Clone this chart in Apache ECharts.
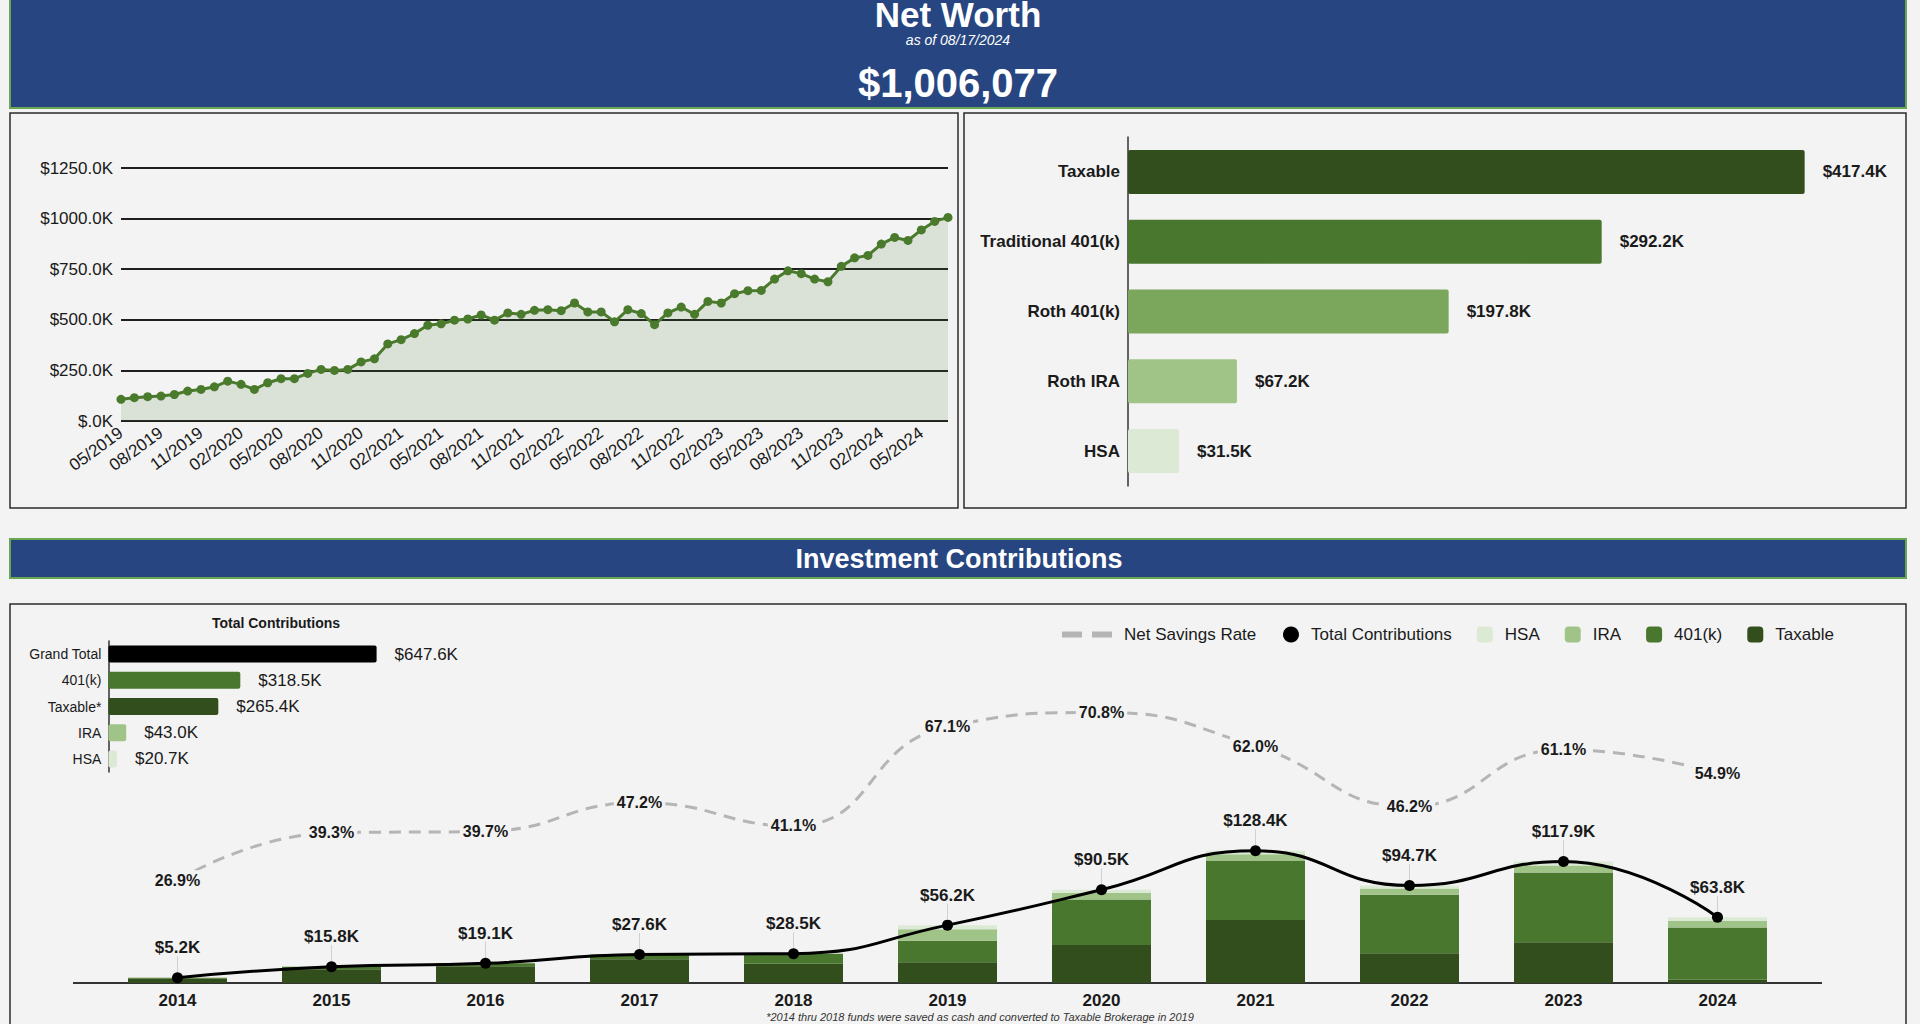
<!DOCTYPE html>
<html><head><meta charset="utf-8">
<script src="https://cdn.jsdelivr.net/npm/echarts@6/dist/echarts.min.js"></script>
<style>html,body{margin:0;padding:0;background:#f3f3f3;overflow:hidden}#c{width:1920px;height:1024px}</style>
</head><body><div id="c"></div>
<script>
// ---------- Net worth over time (K$) ----------
const months = ['05/2019','06/2019','07/2019','08/2019','09/2019','10/2019','11/2019','12/2019',
 '01/2020','02/2020','03/2020','04/2020','05/2020','06/2020','07/2020','08/2020','09/2020','10/2020','11/2020','12/2020',
 '01/2021','02/2021','03/2021','04/2021','05/2021','06/2021','07/2021','08/2021','09/2021','10/2021','11/2021','12/2021',
 '01/2022','02/2022','03/2022','04/2022','05/2022','06/2022','07/2022','08/2022','09/2022','10/2022','11/2022','12/2022',
 '01/2023','02/2023','03/2023','04/2023','05/2023','06/2023','07/2023','08/2023','09/2023','10/2023','11/2023','12/2023',
 '01/2024','02/2024','03/2024','04/2024','05/2024','06/2024','07/2024'];
const netWorth = [107,115,120,123,131,148,156,169,197,181,156,189,209,209,235,255,250,255,292,307,
 381,402,432,473,480,498,504,524,498,534,527,547,550,545,583,539,539,490,550,531,476,534,563,527,
 591,583,629,644,645,701,742,728,701,688,764,806,818,874,907,892,944,986,1006];
const nwTickLabels = {0:'$.0K',250:'$250.0K',500:'$500.0K',750:'$750.0K',1000:'$1000.0K',1250:'$1250.0K'};

// ---------- Accounts (K$) ----------
const acctNames = ['Taxable','Traditional 401(k)','Roth 401(k)','Roth IRA','HSA'];
const acctValues = [417.4,292.2,197.8,67.2,31.5];
const acctColors = ['#324e1d','#4a772e','#7aa75c','#a0c488','#dce9d5'];

// ---------- Total contributions (K$) ----------
const totNames = ['Grand Total','401(k)','Taxable*','IRA','HSA'];
const totValues = [647.6,318.5,265.4,43.0,20.7];
const totColors = ['#000000','#4a772e','#324e1d','#a0c488','#dce9d5'];

// ---------- Contributions by year (K$) ----------
const years = ['2014','2015','2016','2017','2018','2019','2020','2021','2022','2023','2024'];
const taxable = [4.2,13.4,16.3,23.0,18.8,20.1,37.0,61.3,28.8,39.6,3.2];
const k401 = [1.0,2.4,2.8,4.6,9.7,21.0,44.0,57.7,56.8,67.7,50.6];
const ira = [0,0,0,0,0,11.0,6.5,6.1,6.1,6.7,6.6];
const hsa = [0,0,0,0,0,4.1,3.0,3.3,3.0,3.9,3.4];
const totalContrib = [5.2,15.8,19.1,27.6,28.5,56.2,90.5,128.4,94.7,117.9,63.8];
const savingsRate = [26.9,39.3,39.7,47.2,41.1,67.1,70.8,62.0,46.2,61.1,54.9];

const FONT = '"Liberation Sans", Arial, sans-serif';
const TXT = '#1a1a1a';
const BG = '#f3f3f3';
const kfmt = v => '$' + Number(v).toFixed(1) + 'K';

const chart = echarts.init(document.getElementById('c'), null, {renderer: 'svg'});

const graphic = [
  {type:'rect', z:0, shape:{x:10,y:-4,width:1896,height:112}, style:{fill:'#274681', stroke:'#6aa84f', lineWidth:2}},
  {type:'text', z:10, style:{text:'Net Worth', x:958, y:14, align:'center', verticalAlign:'middle', fill:'#fff', font:'bold 35px '+FONT}},
  {type:'text', z:10, style:{text:'as of 08/17/2024', x:958, y:40, align:'center', verticalAlign:'middle', fill:'#fff', font:'italic 14px '+FONT}},
  {type:'text', z:10, style:{text:'$1,006,077', x:958, y:83, align:'center', verticalAlign:'middle', fill:'#fff', font:'bold 40px '+FONT}},
  {type:'rect', z:0, shape:{x:10,y:113,width:948,height:395}, style:{fill:BG, stroke:'#2b2b2b', lineWidth:1.5}},
  {type:'rect', z:0, shape:{x:964,y:113,width:942,height:395}, style:{fill:BG, stroke:'#2b2b2b', lineWidth:1.5}},
  {type:'rect', z:0, shape:{x:10,y:539,width:1896,height:39}, style:{fill:'#274681', stroke:'#6aa84f', lineWidth:2}},
  {type:'text', z:10, style:{text:'Investment Contributions', x:959, y:559, align:'center', verticalAlign:'middle', fill:'#fff', font:'bold 27px '+FONT}},
  {type:'rect', z:0, shape:{x:10,y:604,width:1896,height:440}, style:{fill:BG, stroke:'#2b2b2b', lineWidth:1.5}},
  {type:'line', z:1, shape:{x1:73,y1:983,x2:1822,y2:983}, style:{stroke:'#333', lineWidth:2}},
  {type:'text', z:10, style:{text:'Total Contributions', x:276, y:623, align:'center', verticalAlign:'middle', fill:TXT, font:'bold 14px '+FONT}},
  {type:'text', z:10, style:{text:'*2014 thru 2018 funds were saved as cash and converted to Taxable Brokerage in 2019', x:980, y:1017, align:'center', verticalAlign:'middle', fill:'#333', font:'italic 11px '+FONT}}
];

const option = {
  backgroundColor: BG,
  animation: false,
  textStyle: {fontFamily: FONT},
  graphic: graphic,
  grid: [
    {left:121, top:168, width:827, height:253},
    {left:1128, top:137, width:729.5, height:349},
    {left:108.4, top:641, width:289.9, height:131},
    {left:100.5, top:601, width:1694, height:382}
  ],
  legend: [
    {data:[{name:'Net Savings Rate', icon:'path://M0,0H20V6H0Z M30,0H50V6H30Z', itemStyle:{color:'#b5b5b5'}}],
     left:1057, top:621, itemWidth:50, itemHeight:6, selectedMode:false,
     textStyle:{fontSize:17, color:TXT, fontFamily:FONT, padding:[0,0,0,7]}},
    {data:[{name:'Total Contributions', icon:'circle'},{name:'HSA',icon:'roundRect'},{name:'IRA',icon:'roundRect'},{name:'401(k)',icon:'roundRect'},{name:'Taxable',icon:'roundRect'}],
     left:1278, top:621, itemWidth:16, itemHeight:16, itemGap:25, selectedMode:false,
     textStyle:{fontSize:17, color:TXT, fontFamily:FONT, padding:[0,0,0,7]}}
  ],
  xAxis: [
    {gridIndex:0, type:'category', data:months, boundaryGap:false,
     axisLine:{show:false}, axisTick:{show:false},
     axisLabel:{interval:2, rotate:36, fontSize:17, color:TXT, margin:10}},
    {gridIndex:1, type:'value', min:0, max:450, show:false},
    {gridIndex:2, type:'value', min:0, max:700, show:false},
    {gridIndex:3, type:'category', data:years,
     axisLine:{show:true, lineStyle:{color:'#333', width:2}}, axisTick:{show:false},
     axisLabel:{fontSize:17, fontWeight:'bold', color:TXT, margin:9}}
  ],
  yAxis: [
    {gridIndex:0, type:'value', min:0, max:1250, interval:250,
     axisLine:{show:false}, axisTick:{show:false},
     axisLabel:{fontSize:17, color:TXT, margin:8, formatter: v => nwTickLabels[v]},
     splitLine:{lineStyle:{color:'#1f1f1f', width:2}}},
    {gridIndex:1, type:'category', data:acctNames, inverse:true,
     axisLine:{show:true, lineStyle:{color:'#333', width:1.5}}, axisTick:{show:false},
     axisLabel:{fontSize:17, fontWeight:'bold', color:TXT, margin:8}},
    {gridIndex:2, type:'category', data:totNames, inverse:true,
     axisLine:{show:true, lineStyle:{color:'#333', width:1.5}}, axisTick:{show:false},
     axisLabel:{fontSize:14, color:TXT, margin:7}},
    {gridIndex:3, type:'value', min:0, max:371, show:false},
    {gridIndex:3, type:'value', min:0, max:100, show:false, position:'right'}
  ],
  series: [
    {name:'Net Worth', type:'line', xAxisIndex:0, yAxisIndex:0, data:netWorth,
     symbol:'circle', symbolSize:9, showAllSymbol:true, lineStyle:{color:'#4a7a2c', width:3}, itemStyle:{color:'#4a7a2c'},
     areaStyle:{color:'#4a7a2c', opacity:0.14}},
    {name:'Accounts', type:'bar', xAxisIndex:1, yAxisIndex:1, barWidth:44,
     data: acctValues.map((v,i)=>({value:v, itemStyle:{color:acctColors[i], borderRadius:2}})),
     label:{show:true, position:'right', distance:18, fontSize:17, fontWeight:'bold', color:TXT, formatter:p=>kfmt(p.value)}},
    {name:'Totals', type:'bar', xAxisIndex:2, yAxisIndex:2, barWidth:17,
     data: totValues.map((v,i)=>({value:v, itemStyle:{color:totColors[i], borderRadius:2}})),
     label:{show:true, position:'right', distance:18, fontSize:17, color:TXT, formatter:p=>kfmt(p.value)}},
    {name:'Taxable', type:'bar', stack:'c', xAxisIndex:3, yAxisIndex:3, barWidth:99, data:taxable, itemStyle:{color:'#324e1d'}},
    {name:'401(k)', type:'bar', stack:'c', xAxisIndex:3, yAxisIndex:3, barWidth:99, data:k401, itemStyle:{color:'#4a772e'}},
    {name:'IRA', type:'bar', stack:'c', xAxisIndex:3, yAxisIndex:3, barWidth:99, data:ira, itemStyle:{color:'#a0c488'}},
    {name:'HSA', type:'bar', stack:'c', xAxisIndex:3, yAxisIndex:3, barWidth:99, data:hsa, itemStyle:{color:'#dce9d5'}},
    {name:'Total Contributions', type:'line', xAxisIndex:3, yAxisIndex:3, data:totalContrib, smooth:0.5, z:5,
     symbol:'circle', symbolSize:11, lineStyle:{color:'#000', width:3}, itemStyle:{color:'#000'},
     label:{show:true, position:'top', distance:0, fontSize:17, fontWeight:'bold', color:TXT, formatter:p=>kfmt(p.value)},
     labelLayout:{dy:-16},
     labelLine:{show:true, lineStyle:{color:'#d0d0d0', width:1}}},
    {name:'Net Savings Rate', type:'line', xAxisIndex:3, yAxisIndex:4, data:savingsRate, smooth:0.5, z:4,
     symbol:'circle', symbolSize:1, itemStyle:{color:'rgba(0,0,0,0)'},
     lineStyle:{color:'#b5b5b5', width:3, type:[12,8]},
     label:{show:true, position:'inside', fontSize:16, fontWeight:'bold', color:TXT, backgroundColor:BG, padding:[2,3],
            formatter:p=>Number(p.value).toFixed(1)+'%'}}
  ]
};
chart.setOption(option);
</script></body></html>
